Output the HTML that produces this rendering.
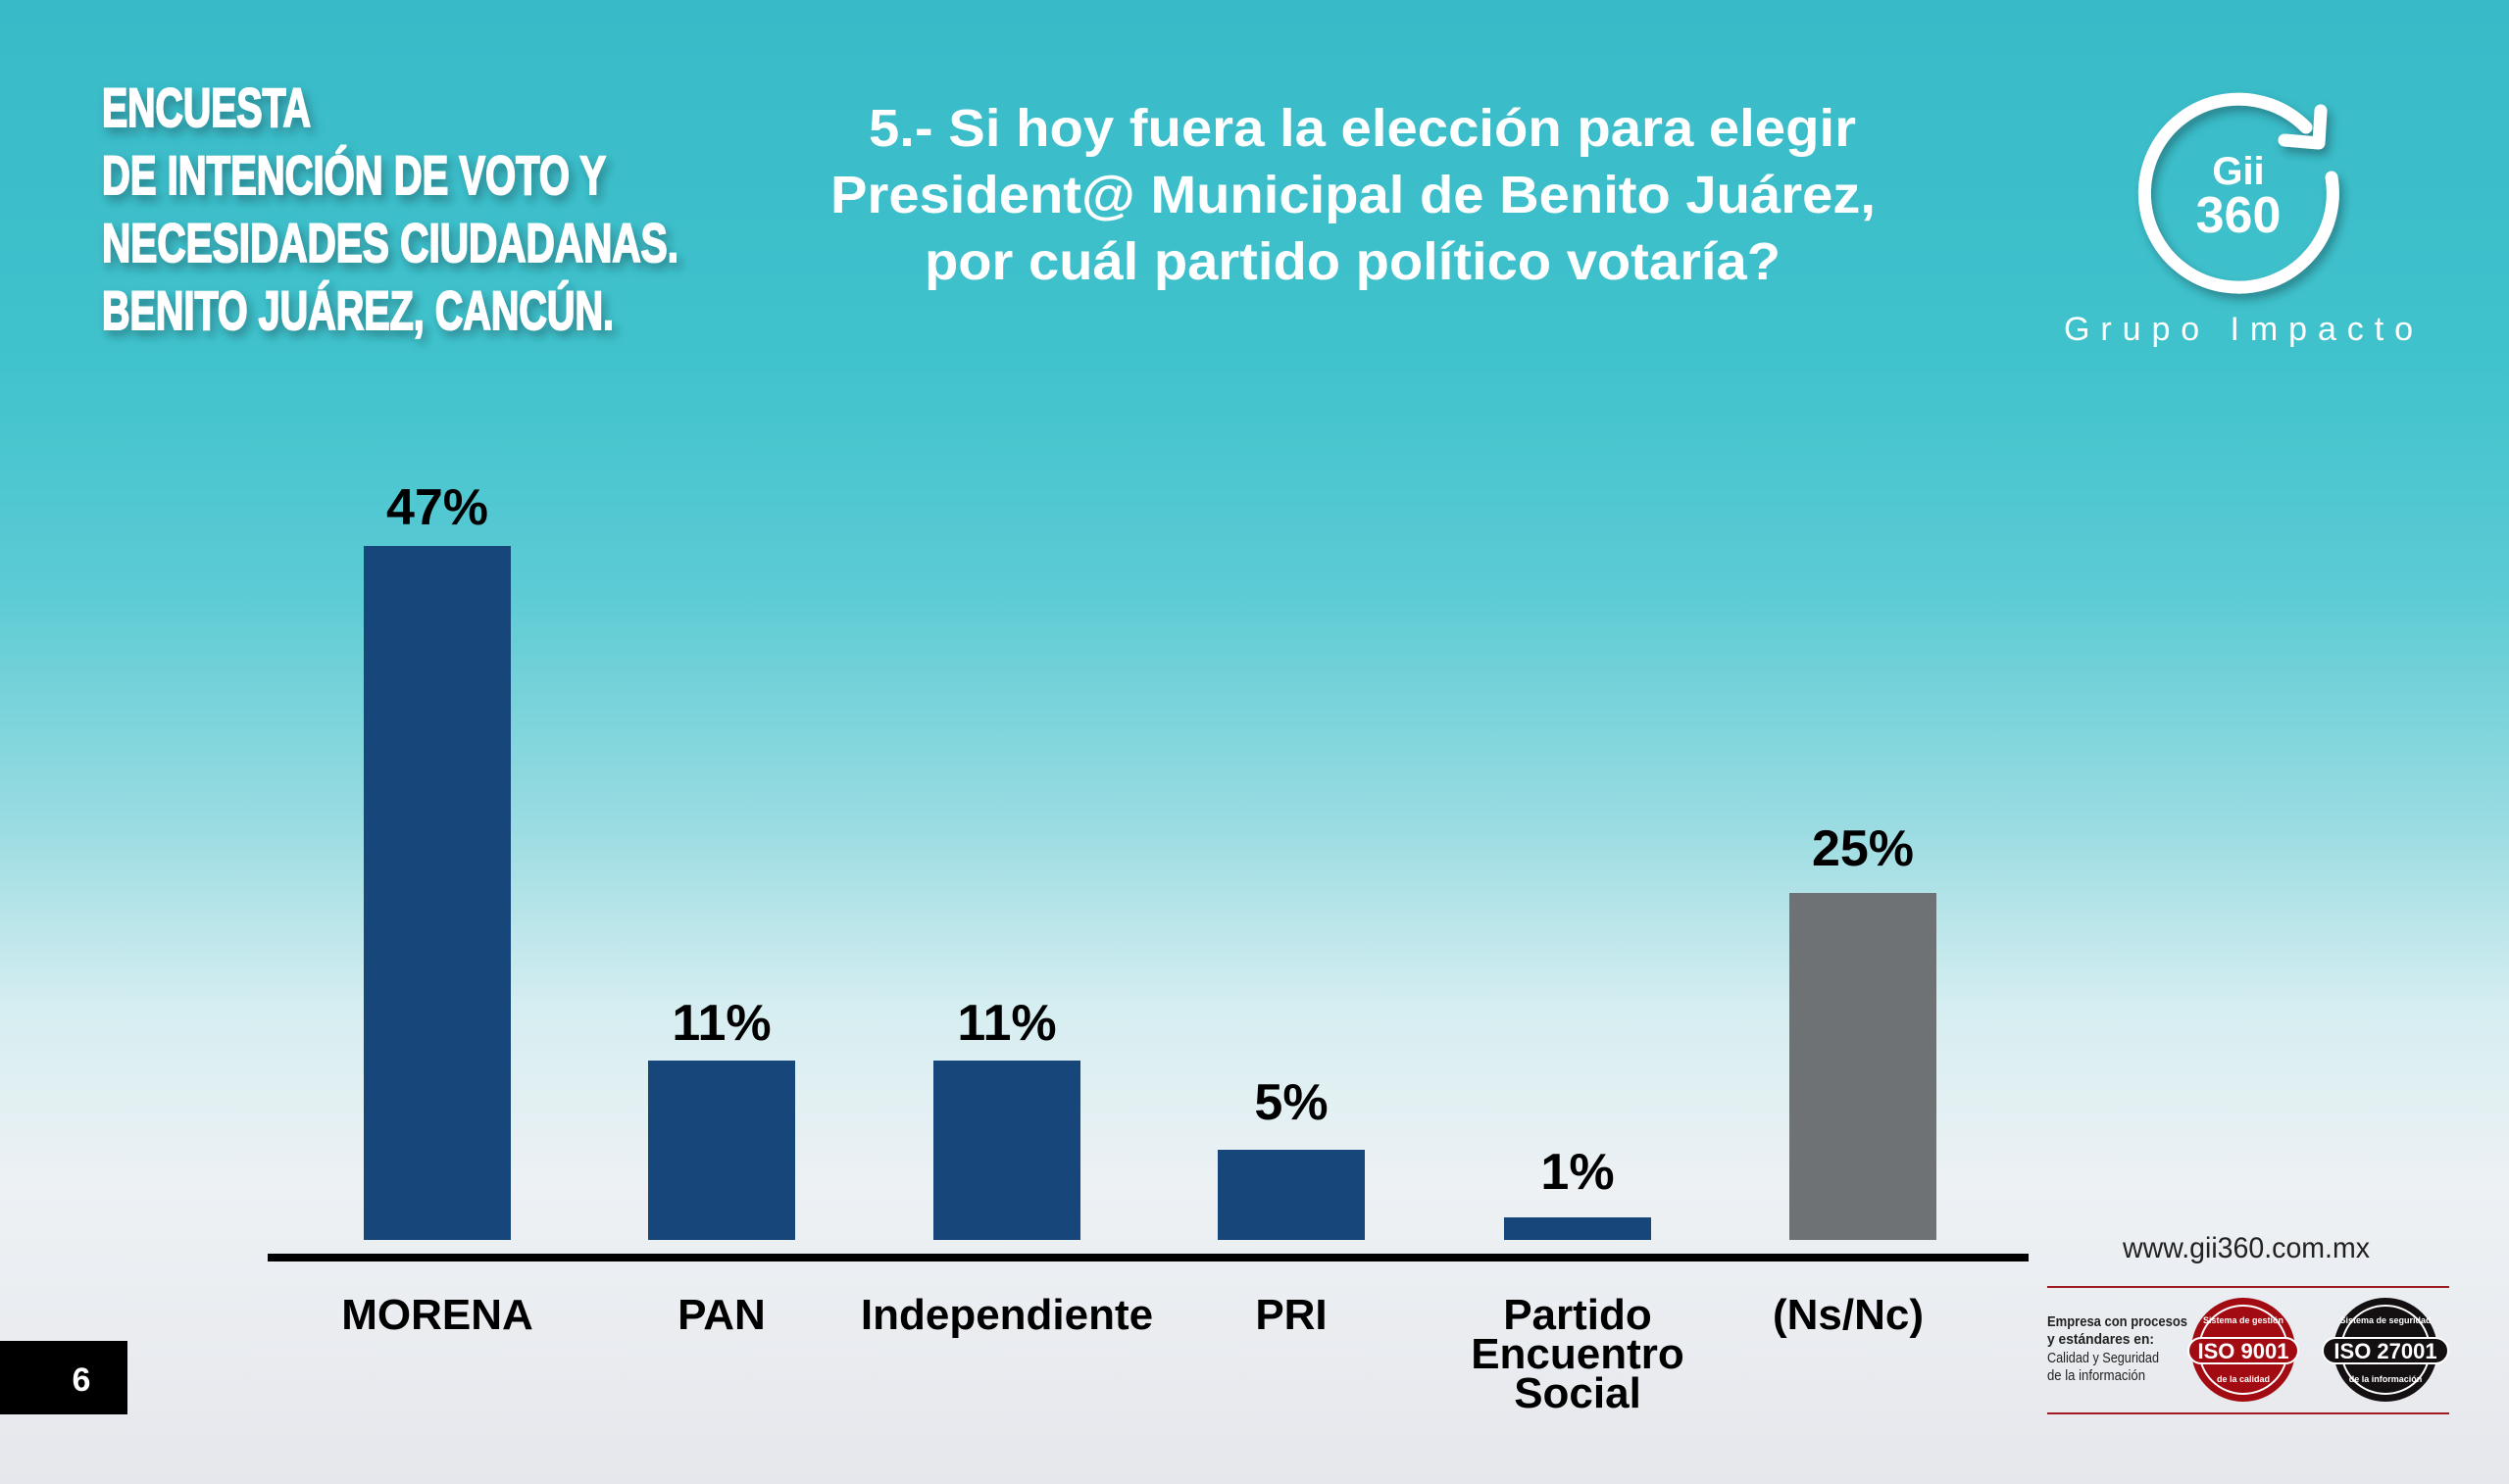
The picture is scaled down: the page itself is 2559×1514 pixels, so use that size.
<!DOCTYPE html>
<html><head><meta charset="utf-8"><style>
html,body{margin:0;padding:0;}
body{width:2559px;height:1514px;overflow:hidden;background:linear-gradient(180deg,#38bac8 0%,#41c3cd 25%,#5ccbd4 40%,#97dbe1 55%,#d6eef1 68%,#edf1f4 80%,#e6e7ec 100%);}
svg{display:block;}
</style></head><body>
<svg width="2559" height="1514" viewBox="0 0 2559 1514" xmlns="http://www.w3.org/2000/svg" font-family="Liberation Sans, sans-serif">
<defs>
<filter id="sh" x="-20%" y="-20%" width="140%" height="160%"><feDropShadow dx="4" dy="6" stdDeviation="5" flood-color="#1d5d66" flood-opacity="0.6"/></filter>
</defs>
<!-- left heading -->
<g fill="#fff" stroke="#fff" stroke-width="2" font-weight="bold" font-size="56" filter="url(#sh)">
<text x="104" y="129" textLength="213" lengthAdjust="spacingAndGlyphs">ENCUESTA</text>
<text x="104" y="198" textLength="514" lengthAdjust="spacingAndGlyphs">DE INTENCIÓN DE VOTO Y</text>
<text x="104" y="267" textLength="588" lengthAdjust="spacingAndGlyphs">NECESIDADES CIUDADANAS.</text>
<text x="104" y="336" textLength="522" lengthAdjust="spacingAndGlyphs">BENITO JUÁREZ, CANCÚN.</text>
</g>
<!-- title -->
<g fill="#fff" font-weight="bold" font-size="54">
<text x="886" y="149" textLength="1007" lengthAdjust="spacingAndGlyphs">5.- Si hoy fuera la elección para elegir</text>
<text x="847" y="217" textLength="1066" lengthAdjust="spacingAndGlyphs">President@ Municipal de Benito Juárez,</text>
<text x="943" y="285" textLength="873" lengthAdjust="spacingAndGlyphs">por cuál partido político votaría?</text>
</g>
<!-- logo -->
<g filter="url(#sh)" fill="none" stroke="#fff" stroke-width="13" stroke-linecap="round" stroke-linejoin="round">
<path d="M2378,181 A96,96 0 1 1 2352,130"/>
<path d="M2330,143 L2365,146 L2367,113"/>
</g>
<g fill="#fff" font-weight="bold" text-anchor="middle">
<text x="2283" y="188" font-size="40">Gii</text>
<text x="2283" y="237" font-size="52">360</text>
<text x="2105" y="347" font-size="34" font-weight="normal" text-anchor="start" textLength="356" lengthAdjust="spacing">Grupo Impacto</text>
</g>
<!-- bars -->
<g fill="#17467a">
<rect x="371" y="557" width="150" height="708"/>
<rect x="661" y="1082" width="150" height="183"/>
<rect x="952" y="1082" width="150" height="183"/>
<rect x="1242" y="1173" width="150" height="92"/>
<rect x="1534" y="1242" width="150" height="23"/>
</g>
<rect x="1825" y="911" width="150" height="354" fill="#6f7274"/>
<rect x="273" y="1279" width="1796" height="8" fill="#000"/>
<g fill="#000" font-weight="bold" font-size="52" text-anchor="middle">
<text x="446" y="535">47%</text>
<text x="736" y="1061">11%</text>
<text x="1027" y="1061">11%</text>
<text x="1317" y="1142">5%</text>
<text x="1609" y="1213">1%</text>
<text x="1900" y="883">25%</text>
</g>
<g fill="#000" font-weight="bold" font-size="44" text-anchor="middle">
<text x="446" y="1356">MORENA</text>
<text x="736" y="1356">PAN</text>
<text x="1027" y="1356">Independiente</text>
<text x="1317" y="1356">PRI</text>
<text x="1609" y="1356">Partido</text>
<text x="1609" y="1396">Encuentro</text>
<text x="1609" y="1436">Social</text>
<text x="1885" y="1356">(Ns/Nc)</text>
</g>
<!-- page number -->
<rect x="0" y="1368" width="130" height="75" fill="#000"/>
<text x="83" y="1419" fill="#fff" font-weight="bold" font-size="34" text-anchor="middle">6</text>
<!-- footer -->
<text x="2165" y="1283" fill="#222" font-size="30" textLength="252" lengthAdjust="spacingAndGlyphs">www.gii360.com.mx</text>
<rect x="2088" y="1312" width="410" height="2" fill="#a01c22"/>
<rect x="2088" y="1441" width="410" height="2" fill="#a01c22"/>
<g fill="#222" font-size="15">
<text x="2088" y="1353" font-weight="bold" textLength="143" lengthAdjust="spacingAndGlyphs">Empresa con procesos</text>
<text x="2088" y="1371" font-weight="bold" textLength="109" lengthAdjust="spacingAndGlyphs">y estándares en:</text>
<text x="2088" y="1390" textLength="114" lengthAdjust="spacingAndGlyphs">Calidad y Seguridad</text>
<text x="2088" y="1408" textLength="100" lengthAdjust="spacingAndGlyphs">de la información</text>
</g>
<circle cx="2288" cy="1377" r="53" fill="#a30b12"/>
<circle cx="2288" cy="1377" r="45" fill="none" stroke="#fff" stroke-width="2"/>
<rect x="2232" y="1365" width="112" height="26" rx="13" fill="#a30b12" stroke="#fff" stroke-width="2"/>
<text x="2288" y="1386" fill="#fff" font-weight="bold" font-size="22" text-anchor="middle">ISO 9001</text>
<circle cx="2433" cy="1377" r="53" fill="#141011"/>
<circle cx="2433" cy="1377" r="45" fill="none" stroke="#fff" stroke-width="2"/>
<rect x="2369" y="1365" width="128" height="26" rx="13" fill="#141011" stroke="#fff" stroke-width="2"/>
<text x="2433" y="1386" fill="#fff" font-weight="bold" font-size="22" text-anchor="middle">ISO 27001</text>
<g fill="#fff" font-size="9" font-weight="bold" text-anchor="middle">
<text x="2288" y="1350">Sistema de gestión</text>
<text x="2288" y="1410">de la calidad</text>
<text x="2433" y="1350">Sistema de seguridad</text>
<text x="2433" y="1410">de la información</text>
</g>
</svg>
</body></html>
